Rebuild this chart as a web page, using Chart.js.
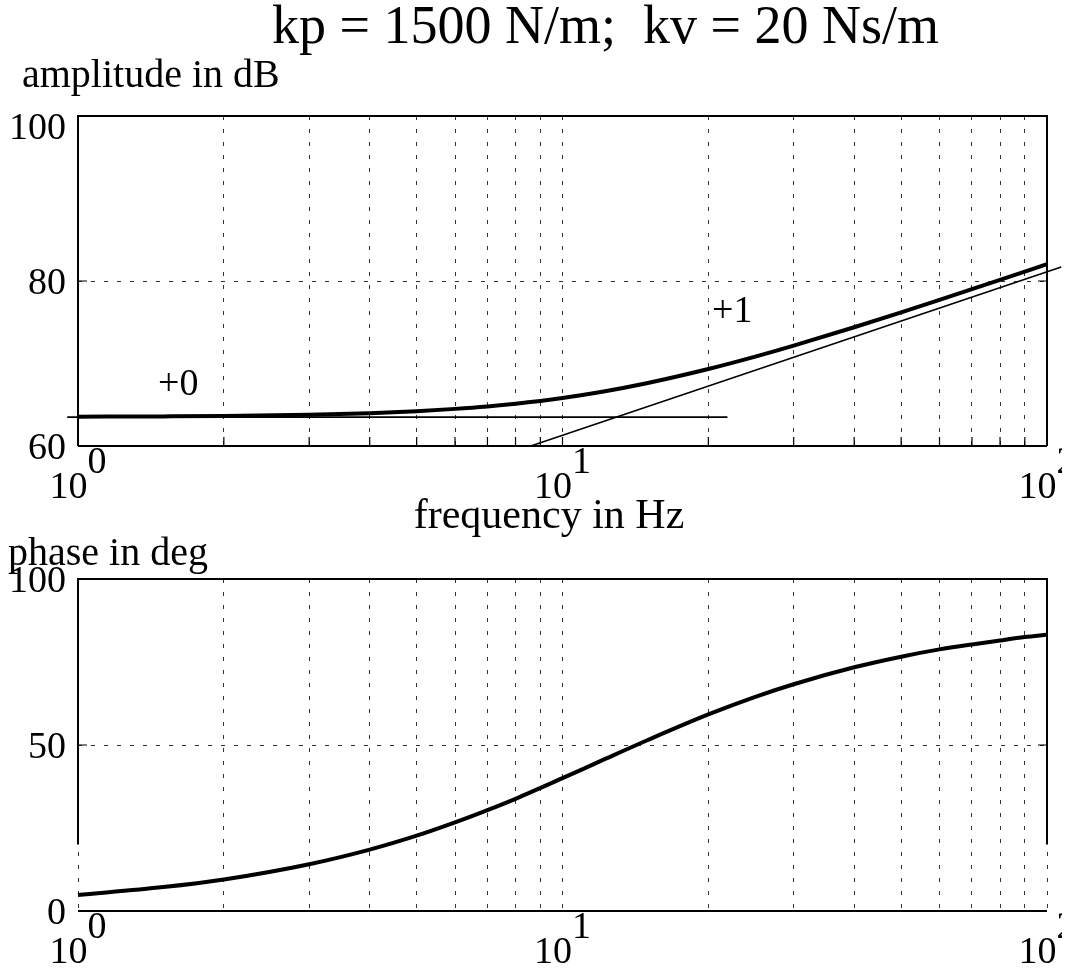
<!DOCTYPE html>
<html>
<head>
<meta charset="utf-8">
<script src="https://cdn.jsdelivr.net/npm/chart.js@4.4.1/dist/chart.umd.min.js"></script>
<style>
  body { margin: 0; background: #fff; }
  #wrap { position: relative; width: 1068px; height: 968px; }
  canvas { position: absolute; left: 0; top: 0; }
</style>
</head>
<body>
<div id="wrap">
  <canvas id="phase-chart" width="1068" height="968"></canvas>
  <canvas id="amp-chart" width="1068" height="968"></canvas>
</div>
<script>
// values
const freqHz      = [1, 1.5, 2, 3, 4, 5, 6, 7, 8, 10, 12, 15, 20, 25, 30, 40, 50, 60, 70, 80, 90, 100];
const amplitudeDb = [63.55, 63.59, 63.64, 63.79, 63.98, 64.22, 64.50, 64.80, 65.13, 65.83, 66.55, 67.64,
                     69.33, 70.83, 72.16, 74.39, 76.20, 77.71, 79.01, 80.14, 81.14, 82.04];
const phaseDeg    = [4.8, 7.2, 9.5, 14.1, 18.5, 22.7, 26.7, 30.4, 33.8, 40.0, 45.2, 51.5,
                     59.2, 64.5, 68.3, 73.4, 76.6, 78.8, 80.3, 81.5, 82.5, 83.2];

// asymptotes (+0 and +1)
const flatAsymHz = [0.95, 21.9];
const flatAsymDb = [63.5, 63.5];
const riseAsymHz = [8.6, 107];
const riseAsymDb = [60, 81.7];

const gridHz = [1, 2, 3, 4, 5, 6, 7, 8, 9, 10, 20, 30, 40, 50, 60, 70, 80, 90, 100];
const decadeHz = [1, 10, 100];
const decadeExp = ['0', '1', '2'];
const ampTicks = [60, 80, 100];
const phaseTicks = [0, 50, 100];

const serif = '"Liberation Serif", "Times New Roman", serif';
const pts = (xs, ys) => xs.map((x, i) => ({ x: x, y: ys[i] }));

const framePlugin = {
  id: 'frame',
  afterDraw(chart, args, o) {
    const { ctx, chartArea: a } = chart;
    const x = chart.scales.x, y = chart.scales.y;
    const sideEnd = o.sideCut == null ? a.bottom : y.getPixelForValue(o.sideCut);
    ctx.save();
    ctx.strokeStyle = '#000';
    ctx.lineWidth = 2;
    ctx.beginPath();
    ctx.moveTo(a.left, sideEnd); ctx.lineTo(a.left, a.top);
    ctx.lineTo(a.right, a.top); ctx.lineTo(a.right, sideEnd);
    ctx.moveTo(a.left, a.bottom); ctx.lineTo(a.right, a.bottom);
    ctx.stroke();

    // short inward ticks
    ctx.lineWidth = 1.2;
    ctx.beginPath();
    if (o.xTicks) gridHz.forEach(v => {
      const px = x.getPixelForValue(v);
      ctx.moveTo(px, a.bottom); ctx.lineTo(px, a.bottom - 9);
    });
    o.yTicks.forEach(v => {
      const py = y.getPixelForValue(v);
      ctx.moveTo(a.left, py); ctx.lineTo(a.left + 9, py);
      ctx.moveTo(a.right, py); ctx.lineTo(a.right - 9, py);
    });
    ctx.stroke();

    ctx.fillStyle = '#000';
    ctx.font = '38px ' + serif;
    ctx.textAlign = 'right';
    ctx.textBaseline = 'alphabetic';
    o.yTicks.forEach(v => {
      let py = y.getPixelForValue(v) + 13;
      if (v === y.max) py += o.topShift || 0;
      ctx.fillText(String(v), a.left - 12, py);
    });

    ctx.save();
    ctx.beginPath(); ctx.rect(0, 0, 1062, chart.height); ctx.clip();
    ctx.textAlign = 'left';
    decadeHz.forEach((v, i) => {
      const base = ctx.measureText('10').width;
      const sup = ctx.measureText(decadeExp[i]).width;
      const px = x.getPixelForValue(v) - (base + sup) / 2;
      ctx.fillText('10', px, a.bottom + 52);
      ctx.fillText(decadeExp[i], px + base, a.bottom + 27);
    });
    ctx.restore();

    (o.texts || []).forEach(t => {
      ctx.font = t.size + 'px ' + serif;
      ctx.textAlign = t.align || 'left';
      ctx.fillText(t.text, t.x, t.y);
    });
    ctx.restore();
  }
};

function scales(yMin, yMax, yTicks) {
  return {
    x: {
      type: 'logarithmic', min: 1, max: 100,
      afterBuildTicks: s => { s.ticks = gridHz.map(v => ({ value: v })); },
      ticks: { display: false },
      grid: { color: '#333', lineWidth: 1, drawTicks: false },
      border: { display: false, dash: [4, 9] }
    },
    y: {
      min: yMin, max: yMax,
      afterBuildTicks: s => { s.ticks = yTicks.map(v => ({ value: v })); },
      ticks: { display: false },
      grid: { color: '#333', lineWidth: 1, drawTicks: false },
      border: { display: false, dash: [4, 9] }
    }
  };
}

const lineStyle = (w) => ({
  borderColor: '#000', borderWidth: w, pointRadius: 0, fill: false,
  cubicInterpolationMode: 'monotone', clip: false
});

new Chart(document.getElementById('amp-chart'), {
  type: 'line',
  data: {
    datasets: [
      Object.assign({ data: pts(freqHz, amplitudeDb) }, lineStyle(4)),
      Object.assign({ data: pts(flatAsymHz, flatAsymDb) }, lineStyle(1.6)),
      Object.assign({ data: pts(riseAsymHz, riseAsymDb) }, lineStyle(1.6))
    ]
  },
  options: {
    responsive: false, animation: false, devicePixelRatio: 1,
    layout: { padding: { left: 78, top: 116, right: 21, bottom: 522 } },
    scales: scales(60, 100, ampTicks),
    plugins: {
      legend: { display: false }, tooltip: { enabled: false },
      frame: {
        xTicks: true, yTicks: ampTicks, topShift: 10,
        texts: [
          { text: 'kp = 1500 N/m;  kv = 20 Ns/m', size: 54, x: 272, y: 43 },
          { text: 'amplitude in dB', size: 40, x: 22, y: 87 },
          { text: 'frequency in Hz', size: 42, x: 549, y: 528, align: 'center' },
          { text: 'phase in deg', size: 40, x: 8, y: 565 },
          { text: '+0', size: 38, x: 158, y: 395 },
          { text: '+1', size: 38, x: 712, y: 322 }
        ]
      }
    }
  },
  plugins: [framePlugin]
});

new Chart(document.getElementById('phase-chart'), {
  type: 'line',
  data: {
    datasets: [
      Object.assign({ data: pts(freqHz, phaseDeg) }, lineStyle(4))
    ]
  },
  options: {
    responsive: false, animation: false, devicePixelRatio: 1,
    layout: { padding: { left: 78, top: 579, right: 21, bottom: 57 } },
    scales: scales(0, 100, phaseTicks),
    plugins: {
      legend: { display: false }, tooltip: { enabled: false },
      frame: { xTicks: false, yTicks: phaseTicks, sideCut: 20 }
    }
  },
  plugins: [framePlugin]
});
</script>
</body>
</html>
